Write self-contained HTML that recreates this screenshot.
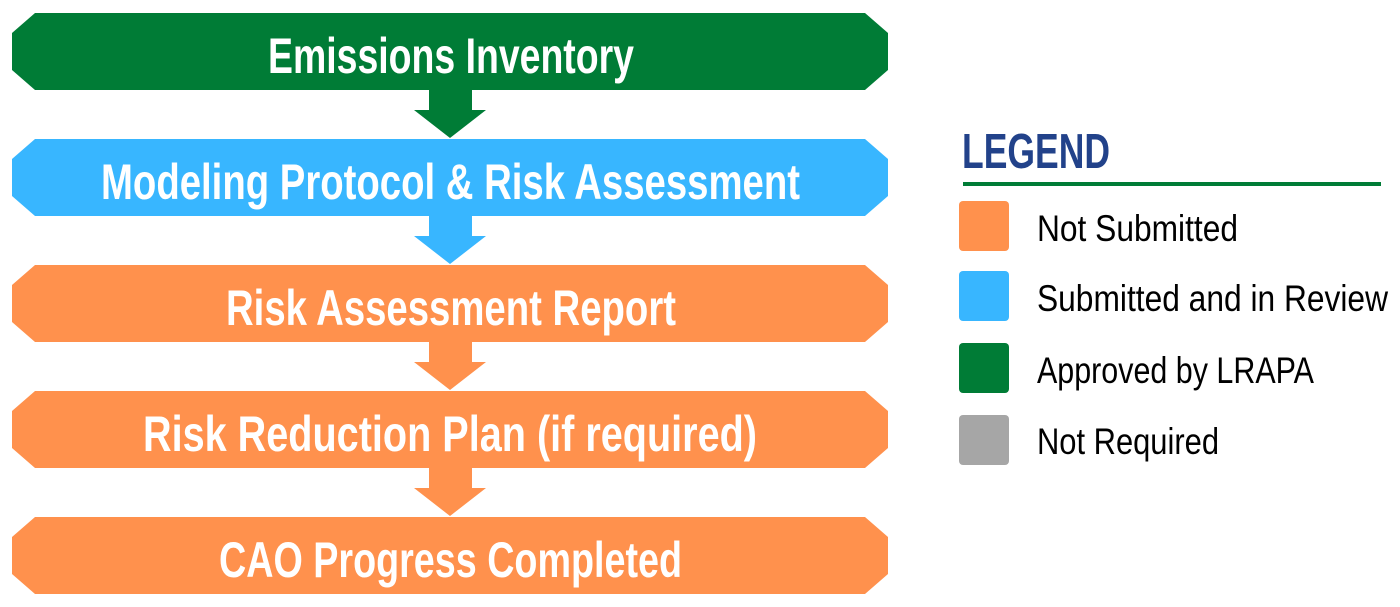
<!DOCTYPE html>
<html><head><meta charset="utf-8"><style>html,body{margin:0;padding:0;background:#fff}svg{display:block}</style></head><body>
<svg width="1400" height="607" viewBox="0 0 1400 607" xmlns="http://www.w3.org/2000/svg">
<defs>
<g id="ban"><path d="M35 0 H865 L888 20 V57 L865 77 H35 L12 57 V20 Z"/></g>
<g id="arr"><path d="M429 0 H472 V20 H486 L450 48 L414 20 H429 Z"/></g>
</defs>
<g font-family="'Liberation Sans Narrow','Liberation Sans',sans-serif" font-weight="bold" fill="#fff" font-size="50">
<use href="#arr" y="90" fill="#007c36"/>
<use href="#ban" y="13" fill="#007c36"/>
<use href="#arr" y="216" fill="#38b6ff"/>
<use href="#ban" y="139" fill="#38b6ff"/>
<use href="#arr" y="342" fill="#ff914d"/>
<use href="#ban" y="265" fill="#ff914d"/>
<use href="#arr" y="468" fill="#ff914d"/>
<use href="#ban" y="391" fill="#ff914d"/>
<use href="#ban" y="517" fill="#ff914d"/>
<text x="268" y="73" textLength="366" lengthAdjust="spacingAndGlyphs">Emissions Inventory</text>
<text x="101" y="199" textLength="699" lengthAdjust="spacingAndGlyphs">Modeling Protocol &amp; Risk Assessment</text>
<text x="226" y="325" textLength="450" lengthAdjust="spacingAndGlyphs">Risk Assessment Report</text>
<text x="143" y="451" textLength="614" lengthAdjust="spacingAndGlyphs">Risk Reduction Plan (if required)</text>
<text x="219" y="577" textLength="463" lengthAdjust="spacingAndGlyphs">CAO Progress Completed</text>
</g>
<text x="962" y="168" font-family="'Liberation Sans Narrow','Liberation Sans',sans-serif" font-weight="bold" font-size="49" fill="#22428a" textLength="148" lengthAdjust="spacingAndGlyphs">LEGEND</text>
<rect x="963" y="182" width="418" height="4" fill="#007c36"/>
<rect x="959" y="201" width="50" height="50" rx="4" fill="#ff914d"/>
<rect x="959" y="271" width="50" height="50" rx="4" fill="#38b6ff"/>
<rect x="959" y="343" width="50" height="50" rx="4" fill="#007c36"/>
<rect x="959" y="415" width="50" height="50" rx="4" fill="#a6a6a6"/>
<g font-family="'Liberation Sans Narrow','Liberation Sans',sans-serif" font-size="37" fill="#000">
<text x="1037" y="241" textLength="201" lengthAdjust="spacingAndGlyphs">Not Submitted</text>
<text x="1037" y="311" textLength="351" lengthAdjust="spacingAndGlyphs">Submitted and in Review</text>
<text x="1037" y="383" textLength="277" lengthAdjust="spacingAndGlyphs">Approved by LRAPA</text>
<text x="1037" y="454" textLength="182" lengthAdjust="spacingAndGlyphs">Not Required</text>
</g>
</svg>
</body></html>
